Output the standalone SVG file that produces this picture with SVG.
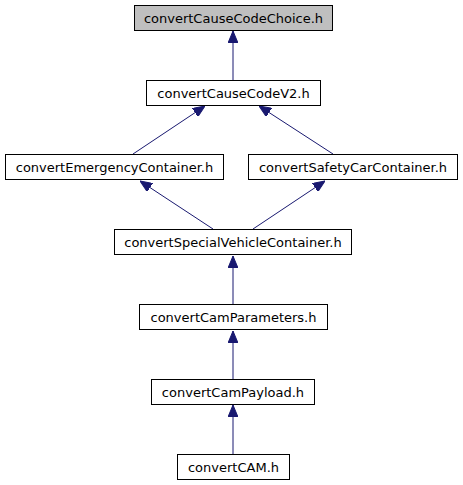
<svg xmlns="http://www.w3.org/2000/svg" width="463" height="485" viewBox="0 0 463 485">
<style>
.box{fill:#ffffff;stroke:#000000;stroke-width:1}
.root{fill:#bfbfbf}
.lbl{font-family:"DejaVu Sans",sans-serif;font-size:13px;fill:#000000;text-anchor:middle}
.edge{stroke:#191970;stroke-width:1;fill:none;marker-end:url(#ah)}
</style>
<defs>
<marker id="ah" markerUnits="userSpaceOnUse" markerWidth="12" markerHeight="10" refX="12" refY="5" orient="auto">
<path d="M0,0 L12,5 L0,10 z" fill="#191970" stroke="#191970" stroke-width="1"/>
</marker>
</defs>
<rect width="463" height="485" fill="#ffffff"/>
<g id="connectors">
<line class="edge" x1="233" y1="80" x2="233" y2="31"/>
<line class="edge" x1="133" y1="154" x2="205" y2="106"/>
<line class="edge" x1="333" y1="154" x2="259" y2="106"/>
<line class="edge" x1="213" y1="229" x2="140" y2="181"/>
<line class="edge" x1="253" y1="229" x2="325" y2="181"/>
<line class="edge" x1="233" y1="304" x2="233" y2="256"/>
<line class="edge" x1="233" y1="379" x2="233" y2="331"/>
<line class="edge" x1="233" y1="454" x2="233" y2="405"/>
</g>
<g id="n1"><rect class="box root" x="134.5" y="5.5" width="198" height="25"/><text class="lbl" x="233.5" y="22.5">convertCauseCodeChoice.h</text></g>
<g id="n2"><rect class="box" x="146.5" y="80.5" width="174" height="25"/><text class="lbl" x="233.5" y="97.5">convertCauseCodeV2.h</text></g>
<g id="n3"><rect class="box" x="5.5" y="154.5" width="218" height="25"/><text class="lbl" x="114.5" y="171.5">convertEmergencyContainer.h</text></g>
<g id="n4"><rect class="box" x="248.5" y="154.5" width="209" height="25"/><text class="lbl" x="353" y="171.5">convertSafetyCarContainer.h</text></g>
<g id="n5"><rect class="box" x="114.5" y="229.5" width="237" height="25"/><text class="lbl" x="233" y="246.5">convertSpecialVehicleContainer.h</text></g>
<g id="n6"><rect class="box" x="139.5" y="304.5" width="188" height="25"/><text class="lbl" x="233.5" y="321.5">convertCamParameters.h</text></g>
<g id="n7"><rect class="box" x="151.5" y="379.5" width="163" height="25"/><text class="lbl" x="233" y="396.5">convertCamPayload.h</text></g>
<g id="n8"><rect class="box" x="177.5" y="454.5" width="112" height="25"/><text class="lbl" x="233.5" y="471.5">convertCAM.h</text></g>
</svg>
